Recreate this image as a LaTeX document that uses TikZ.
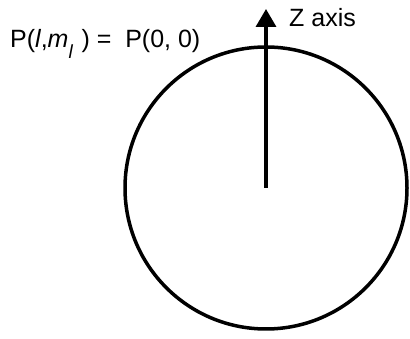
\documentclass[tikz,border=0pt]{standalone}
\usepackage{fontspec}
\setmainfont{Liberation Sans}
\usetikzlibrary{arrows.meta}

\begin{document}
\begin{tikzpicture}[x=1pt, y=1pt]
  \useasboundingbox (0,0) rectangle (410,339);
  \coordinate (origin) at (266,151);
  \coordinate (ztip) at (266,330);
  \draw[line width=3.5pt] (origin) circle (141);
  \draw[line width=3.5pt, -{Triangle[width=20pt, length=18pt]}] (origin) -- (ztip);
  \node[anchor=base west, inner sep=0pt, font=\fontsize{25}{28}\selectfont] (zlabel) at (289,312) {Z axis};
  \node[anchor=base west, inner sep=0pt, font=\fontsize{25}{28}\selectfont] (plabel) at (10,291)
    {P(\textit{l},\textit{m}\raisebox{-11pt}{\fontsize{19}{20}\selectfont\textit{l}}\,\,) = \ P(0, 0)};
\end{tikzpicture}
\end{document}
